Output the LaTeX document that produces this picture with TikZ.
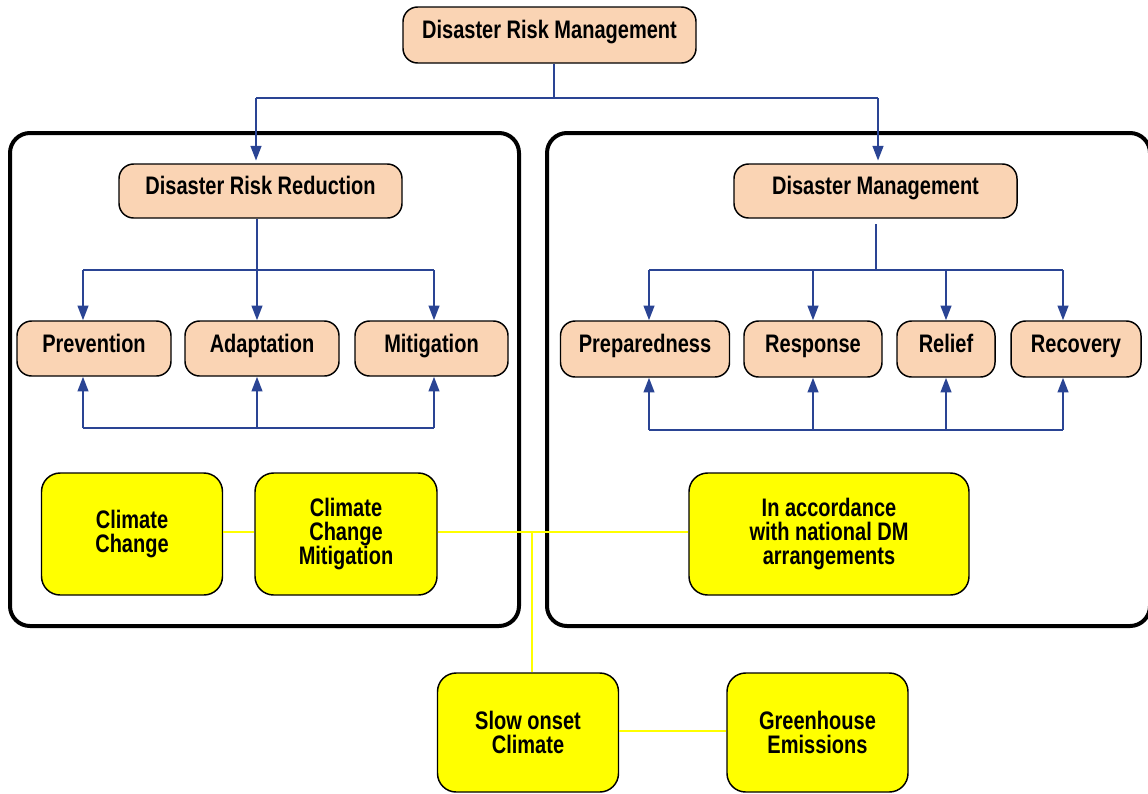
\documentclass[tikz,border=0pt]{standalone}
\usepackage{fontspec}
\setmainfont[FakeStretch=0.79]{Liberation Sans}
\usetikzlibrary{arrows.meta,calc}
\definecolor{peach}{HTML}{FAD4B4}
\definecolor{ylw}{HTML}{FFFF00}
\definecolor{bluel}{HTML}{2A4494}
\begin{document}
\begin{tikzpicture}[x=0.75pt,y=-0.75pt,
  pbox/.style={draw=black,line width=1.1pt,fill=peach,rounded corners=11pt,inner sep=0pt,
    font=\fontsize{19}{18}\selectfont\bfseries,text height=0.72em,text depth=0.13em},
  ybox/.style={draw=black,line width=1.1pt,fill=ylw,rounded corners=14pt,inner sep=0pt,
    font=\fontsize{19}{18}\selectfont\bfseries,align=center},
  bigbox/.style={draw=black,line width=3pt,rounded corners=15pt},
  bl/.style={draw=bluel,line width=1.6pt},
  arr/.style={bl,-{Triangle[length=11pt,width=8pt]}},
  yl/.style={draw=ylw,line width=1.6pt}]
\useasboundingbox (0,0) rectangle (1148,793);
\fill[white] (0,0) rectangle (1148,793);
% big frames
\draw[bigbox] (10,133) rectangle (519,626);
\draw[bigbox] (547,133) rectangle (1150,626);
% peach nodes
\node[pbox,minimum width=293*0.75pt,minimum height=56*0.75pt] (drm) at (549.5,35) {Disaster Risk Management};
\node[pbox,minimum width=283*0.75pt,minimum height=54*0.75pt] (drr) at (260.5,191) {Disaster Risk Reduction};
\node[pbox,minimum width=283*0.75pt,minimum height=54*0.75pt] (dm) at (875.5,191) {Disaster Management};
\node[pbox,minimum width=154*0.75pt,minimum height=55*0.75pt] (prev) at (94,348.5) {Prevention};
\node[pbox,minimum width=154*0.75pt,minimum height=55*0.75pt] (adap) at (262,348.5) {Adaptation};
\node[pbox,minimum width=153*0.75pt,minimum height=55*0.75pt] (miti) at (431.5,348.5) {Mitigation};
\node[pbox,minimum width=169*0.75pt,minimum height=56*0.75pt] (prep) at (645,349) {Preparedness};
\node[pbox,minimum width=138*0.75pt,minimum height=56*0.75pt] (resp) at (813,349) {Response};
\node[pbox,minimum width=98*0.75pt,minimum height=56*0.75pt] (reli) at (946,349) {Relief};
\node[pbox,minimum width=130*0.75pt,minimum height=56*0.75pt] (reco) at (1076,349) {Recovery};
% yellow nodes
\node[ybox,minimum width=181*0.75pt,minimum height=122*0.75pt] (cc) at (132,534) {Climate\\Change};
\node[ybox,minimum width=182*0.75pt,minimum height=122*0.75pt] (ccm) at (346,534) {Climate\\Change\\Mitigation};
\node[ybox,minimum width=280*0.75pt,minimum height=122*0.75pt] (acc) at (829,534) {In accordance\\with national DM\\arrangements};
\node[ybox,minimum width=181*0.75pt,minimum height=119*0.75pt] (slow) at (528,732.5) {Slow onset\\Climate};
\node[ybox,minimum width=181*0.75pt,minimum height=119*0.75pt] (green) at (817.5,732.5) {Greenhouse\\Emissions};
% top tree
\coordinate (tj) at (554,98);
\coordinate (tL) at (256,98);
\coordinate (tR) at (878,98);
\draw[bl] (drm.south -| tj) -- (tj);
\draw[bl] (tL) -- (tR);
\draw[arr,shorten >=2pt] (tL) -- (drr.north -| tL);
\draw[arr,shorten >=2pt] (tR) -- (dm.north -| tR);
% left tree
\coordinate (lj) at (257,270);
\coordinate (lL) at (83,270);
\coordinate (lR) at (434,270);
\coordinate (lbL) at (83,428);
\coordinate (lbM) at (257,428);
\coordinate (lbR) at (434,428);
\draw[bl] (drr.south -| lj) -- (lj);
\draw[bl] (lL) -- (lR);
\draw[arr] (lL) -- (prev.north -| lL);
\draw[arr] (lj) -- (adap.north -| lj);
\draw[arr] (lR) -- (miti.north -| lR);
\draw[bl] (lbL) -- (lbR);
\draw[arr] (lbL) -- (prev.south -| lbL);
\draw[arr] (lbM) -- (adap.south -| lbM);
\draw[arr] (lbR) -- (miti.south -| lbR);
% right tree
\coordinate (rj) at (876,270);
\coordinate (rL) at (649,270);
\coordinate (rR) at (1063,270);
\coordinate (r2) at (813,270);
\coordinate (r3) at (946,270);
\coordinate (rbL) at (649,430);
\coordinate (rbR) at (1063,430);
\coordinate (rb2) at (813,430);
\coordinate (rb3) at (946,430);
\draw[bl,shorten <=4pt] (dm.south -| rj) -- (rj);
\draw[bl] (rL) -- (rR);
\draw[arr] (rL) -- (prep.north -| rL);
\draw[arr] (r2) -- (resp.north -| r2);
\draw[arr] (r3) -- (reli.north -| r3);
\draw[arr] (rR) -- (reco.north -| rR);
\draw[bl] (rbL) -- (rbR);
\draw[arr] (rbL) -- (prep.south -| rbL);
\draw[arr] (rb2) -- (resp.south -| rb2);
\draw[arr] (rb3) -- (reli.south -| rb3);
\draw[arr] (rbR) -- (reco.south -| rbR);
% yellow connectors
\coordinate (yj) at (532,532);
\coordinate (yb) at (0,731);
\draw[yl] (cc.east |- yj) -- (ccm.west |- yj);
\draw[yl] (ccm.east |- yj) -- (acc.west |- yj);
\draw[yl] (yj) -- (slow.north -| yj);
\draw[yl] (slow.east |- yb) -- (green.west |- yb);
\end{tikzpicture}
\end{document}
